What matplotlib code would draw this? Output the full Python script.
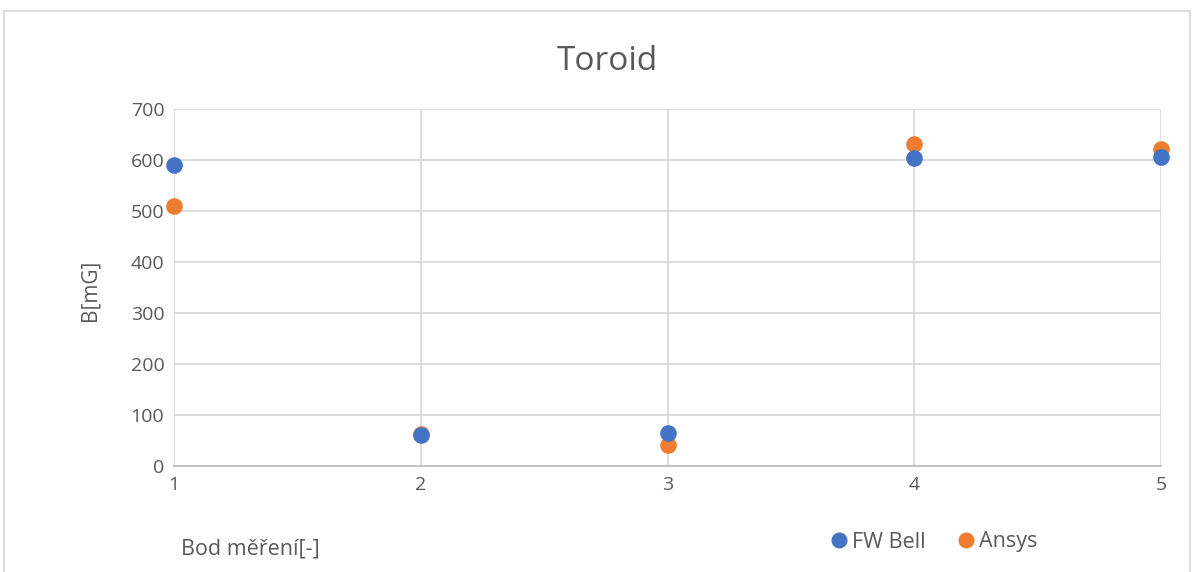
import matplotlib
matplotlib.use("Agg")
import matplotlib.pyplot as plt
from matplotlib.patches import Rectangle
from matplotlib.lines import Line2D

x_points = [1, 2, 3, 4, 5]
fw_bell = [590, 60, 65, 604, 606]
ansys = [510, 62, 42, 631, 622]
y_ticks = [0, 100, 200, 300, 400, 500, 600, 700]

plt.rcParams['font.family'] = ['Open Sans', 'DejaVu Sans']
W, H = 1194, 572
fig = plt.figure(figsize=(W / 100, H / 100), dpi=100)
ax = fig.add_axes([174 / W, 1 - 466 / H, (1161 - 174) / W, (466 - 109) / H])

blue = '#4472C4'
orange = '#ED7D31'
tc = '#595959'

ax.scatter(x_points, ansys, s=120, color=orange, zorder=3, label='Ansys', clip_on=False)
ax.scatter(x_points, fw_bell, s=120, color=blue, zorder=4, label='FW Bell', clip_on=False)

ax.set_xlim(1, 5)
ax.set_ylim(0, 700)
ax.set_xticks(x_points)
ax.set_yticks(y_ticks)
ax.grid(True, color='#d9d9d9', linewidth=1.3)
ax.set_axisbelow(True)
for s in ['top', 'right', 'left']:
    ax.spines[s].set_visible(False)
ax.spines['bottom'].set_color('#bfbfbf')
ax.spines['bottom'].set_linewidth(1.3)
ax.tick_params(length=0, colors=tc, labelsize=14, pad=7)

fig.text(607 / W, 1 - 62 / H, 'Toroid', fontsize=24, color=tc, ha='center', va='center')
fig.text(90 / W, 1 - 290 / H, 'B[mG]', rotation=90, fontsize=15, color=tc, ha='center', va='center')
fig.text(181 / W, 1 - 549 / H, 'Bod měření[-]', fontsize=15.5, color=tc, ha='left', va='center')

handles = [Line2D([], [], marker='o', linestyle='', color=blue, markersize=10.5),
           Line2D([], [], marker='o', linestyle='', color=orange, markersize=10.5)]
leg = fig.legend(handles, ['FW Bell', 'Ansys'], loc='center', bbox_to_anchor=(933 / W, 1 - 542 / H),
                 ncol=2, frameon=False, fontsize=15.5, handletextpad=0.1, columnspacing=1.4,
                 handlelength=1.0)
for t in leg.get_texts():
    t.set_color(tc)

fig.patches.append(Rectangle((4 / W, -0.1), (1190 - 4) / W, 1 - 11 / H + 0.1, transform=fig.transFigure,
                             fill=False, edgecolor='#d9d9d9', linewidth=1.3))

fig.savefig('out.png', dpi=100)
